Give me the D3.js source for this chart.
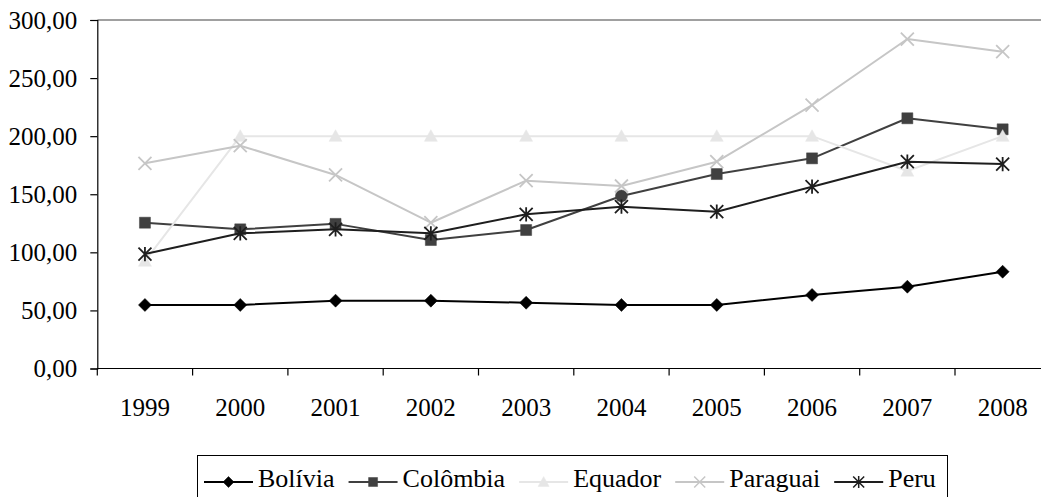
<!DOCTYPE html>
<html>
<head>
<meta charset="utf-8">
<script src="https://cdn.jsdelivr.net/npm/d3@7"></script>
<style>
  html, body { margin: 0; padding: 0; background: #ffffff; overflow: hidden; }
</style>
</head>
<body>
<svg id="chart" width="1041" height="497"></svg>
<script>
// chart data
var years = ["1999", "2000", "2001", "2002", "2003", "2004", "2005", "2006", "2007", "2008"];
var bolivia = [54.7, 54.7, 58.4, 58.4, 56.6, 54.7, 54.7, 63.3, 70.4, 83.3];
var colombia = [125.5, 119.8, 124.5, 110.6, 119.2, 148.5, 167.4, 180.9, 215.4, 205.9];
var equador = [92.5, 200, 200, 200, 200, 200, 200, 200, 170, 200];
var paraguai = [176.6, 191.8, 166.6, 125.5, 161.7, 157.1, 178, 226.8, 283.6, 272.7];
var peru = [98.5, 116.4, 119.8, 116.4, 132.7, 139.3, 135, 156.5, 178, 176];
var seriesNames = ["Bolívia", "Colômbia", "Equador", "Paraguai", "Peru"];
var yTicks = [0, 50, 100, 150, 200, 250, 300];

// look of each series (same order as seriesNames)
var seriesStyles = [
  { line: "#000000", marker: "diamond", fill: "#000000", width: 2 },
  { line: "#404040", marker: "square", fill: "#404040", width: 2 },
  { line: "#e6e6e6", marker: "triangle", fill: "#e6e6e6", width: 2 },
  { line: "#c6c6c6", marker: "cross", fill: "none", width: 2 },
  { line: "#1e1e1e", marker: "asterisk", fill: "none", width: 2 }
];

var FONT = "'Liberation Serif', 'Times New Roman', Times, serif";

var vis = {
  width: 1041,
  height: 497,
  left: 97.3,
  right: 1050.3, // plot area runs past the picture's right edge
  top: 20,
  bottom: 368.5
};

/*
  NAME: markerPath
  DESCRIPTION: returns svg path string for a marker shape centred on 0,0
  ARGUMENTS TAKEN: type - marker name, r - half size
  ARGUMENTS RETURNED: path string
*/
function markerPath(type, r) {
  if (type == "diamond") {
    return "M0," + -r + "L" + r + ",0L0," + r + "L" + -r + ",0Z";
  } else if (type == "square") {
    return "M" + -r + "," + -r + "H" + r + "V" + r + "H" + -r + "Z";
  } else if (type == "triangle") {
    return "M0," + -r + "L" + r + "," + r * 0.8 + "L" + -r + "," + r * 0.8 + "Z";
  } else if (type == "cross") {
    return "M" + -r + "," + -r + "L" + r + "," + r + "M" + -r + "," + r + "L" + r + "," + -r;
  } else if (type == "asterisk") {
    return "M" + -r + "," + -r + "L" + r + "," + r + "M" + -r + "," + r + "L" + r + "," + -r +
      "M0," + -r * 1.1 + "V" + r * 1.1;
  } else if (type == "circle") {
    return d3.symbol().type(d3.symbolCircle).size(Math.PI * r * r)();
  }
  return "";
} // end function markerPath

/*
  NAME: drawChart
  DESCRIPTION: builds axes, series lines, markers and legend
*/
function drawChart() {
  var svg = d3.select("#chart").attr("font-family", FONT);
  var seriesValues = [bolivia, colombia, equador, paraguai, peru];

  var x = d3.scaleBand().domain(years).range([vis.left, vis.right]).padding(0);
  var y = d3.scaleLinear().domain([0, 300]).range([vis.bottom, vis.top]);
  var fmt = d3.format(".2f");

  // top frame line of plot area
  svg.append("line")
    .attr("x1", vis.left)
    .attr("x2", vis.right)
    .attr("y1", vis.top)
    .attr("y2", vis.top)
    .attr("stroke", "#808080")
    .attr("stroke-width", 1.5);

  // y axis
  var yAxis = svg.append("g")
    .attr("transform", "translate(" + vis.left + ",0)")
    .call(d3.axisLeft(y).tickValues(yTicks).tickSize(7).tickPadding(13)
      .tickFormat(function (d) { return fmt(d).replace(".", ","); }));
  yAxis.attr("font-family", FONT).attr("font-size", 25);
  yAxis.select(".domain").attr("stroke", "#000000").attr("stroke-width", 1.2);
  yAxis.selectAll(".tick line").attr("stroke", "#000000").attr("stroke-width", 1.2);
  yAxis.selectAll(".tick text")
    .attr("font-family", FONT)
    .attr("font-size", 25)
    .attr("fill", "#000000")
    .attr("dy", "0.33em");

  // x axis: ticks on category boundaries
  var boundaries = years.map(function (d) { return x(d); }).concat([vis.right]);
  var xAxis = svg.append("g").attr("class", "x-axis");
  xAxis.append("line")
    .attr("x1", vis.left)
    .attr("x2", vis.right)
    .attr("y1", vis.bottom)
    .attr("y2", vis.bottom)
    .attr("stroke", "#000000")
    .attr("stroke-width", 1.2);
  xAxis.selectAll(".xtick")
    .data(boundaries)
    .enter()
    .append("line")
    .attr("class", "xtick")
    .attr("x1", function (d) { return d; })
    .attr("x2", function (d) { return d; })
    .attr("y1", vis.bottom)
    .attr("y2", vis.bottom + 7)
    .attr("stroke", "#000000")
    .attr("stroke-width", 1.2);
  xAxis.selectAll(".xlabel")
    .data(years)
    .enter()
    .append("text")
    .attr("class", "xlabel")
    .attr("x", function (d) { return x(d) + x.bandwidth() / 2; })
    .attr("y", 416)
    .attr("text-anchor", "middle")
    .attr("font-family", FONT)
    .attr("font-size", 25)
    .text(function (d) { return d; });

  var line = d3.line()
    .x(function (d, i) { return x(years[i]) + x.bandwidth() / 2; })
    .y(function (d) { return y(d); });

  // series lines and markers, drawn in series order
  seriesValues.forEach(function (values, s) {
    var st = seriesStyles[s];
    var g = svg.append("g").attr("class", "series series-" + s);

    g.append("path")
      .datum(values)
      .attr("d", line)
      .attr("fill", "none")
      .attr("stroke", st.line)
      .attr("stroke-width", st.width)
      .attr("stroke-linejoin", "round");

    g.selectAll(".marker")
      .data(values)
      .enter()
      .append("path")
      .attr("class", "marker")
      .attr("transform", function (d, i) {
        return "translate(" + (x(years[i]) + x.bandwidth() / 2) + "," + y(d) + ")";
      })
      .attr("d", function (d, i) {
        // the reference shows a round marker on Colômbia 2004
        if (s == 1 && years[i] == "2004") return markerPath("circle", 6);
        if (st.marker == "square") return markerPath("square", 5.5);
        return markerPath(st.marker, 6.5);
      })
      .attr("fill", st.fill == "none" ? "none" : st.fill)
      .attr("stroke", st.line)
      .attr("stroke-width", st.fill == "none" ? 1.8 : 0.5);
  }); // end forEach

  drawLegend(svg);

  return;
} // end function drawChart

/*
  NAME: drawLegend
  DESCRIPTION: boxed legend at the bottom of the chart
*/
function drawLegend(svg) {
  var lg = svg.append("g").attr("class", "legend");

  lg.append("rect")
    .attr("x", 197.5)
    .attr("y", 455.5)
    .attr("width", 750)
    .attr("height", 60)
    .attr("fill", "#ffffff")
    .attr("stroke", "#000000")
    .attr("stroke-width", 1);

  var cx = 204;
  var lineY = 482;
  seriesNames.forEach(function (name, s) {
    var st = seriesStyles[s];
    var item = lg.append("g");

    item.append("line")
      .attr("x1", cx)
      .attr("x2", cx + 49)
      .attr("y1", lineY)
      .attr("y2", lineY)
      .attr("stroke", st.line)
      .attr("stroke-width", st.width);

    item.append("path")
      .attr("transform", "translate(" + (cx + 24.5) + "," + lineY + ")")
      .attr("d", markerPath(st.marker, st.marker == "square" ? 4.5 : 5.5))
      .attr("fill", st.fill == "none" ? "none" : st.fill)
      .attr("stroke", st.line)
      .attr("stroke-width", st.fill == "none" ? 1.5 : 0.5);

    var txt = item.append("text")
      .attr("x", cx + 54)
      .attr("y", 487)
      .attr("font-family", FONT)
      .attr("font-size", 26)
      .text(name);

    cx = cx + 54 + txt.node().getComputedTextLength() + 14;
  }); // end forEach

  return;
} // end function drawLegend

drawChart();
</script>
</body>
</html>
